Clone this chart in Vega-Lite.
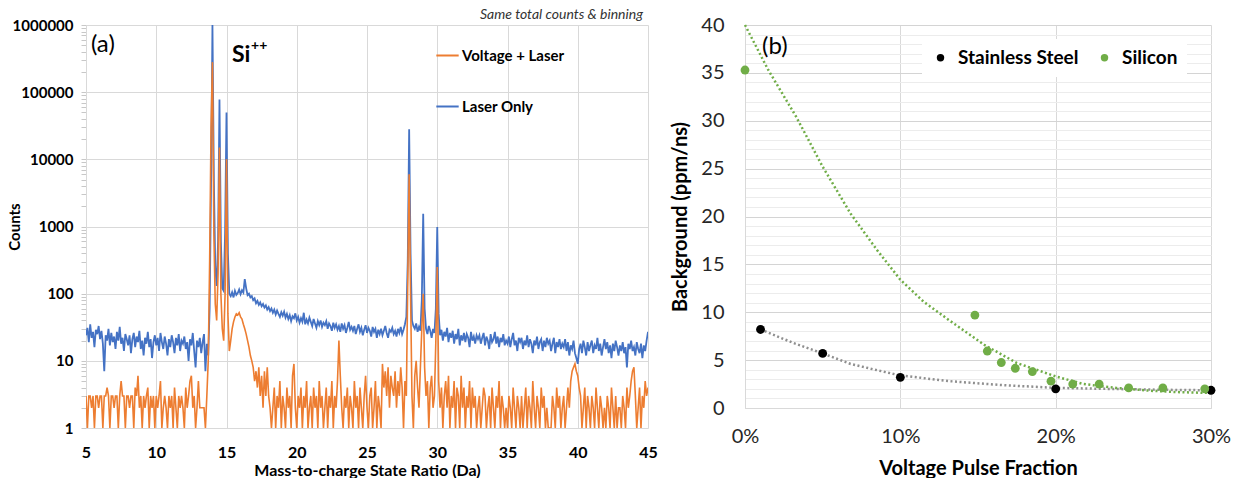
{
"$schema": "https://vega.github.io/schema/vega-lite/v6.json",
"padding": {"left": 7, "top": 8, "right": 5, "bottom": 0},
"spacing": 12,
"config": {"font": "Lato", "view": {"stroke": null}},
"resolve": {"scale": {"color": "independent"}, "legend": {"color": "independent"}},
"datasets": {
"spec": [
{"m":5.0,"L":24,"V":3},{"m":5.1,"L":31,"V":1},{"m":5.2,"L":19,"V":3},{"m":5.3,"L":35,"V":3},{"m":5.4,"L":22,"V":2},{"m":5.5,"L":27,"V":3},{"m":5.6,"L":16,"V":1},{"m":5.7,"L":29,"V":3},{"m":5.8,"L":25,"V":3},{"m":5.9,"L":33,"V":2},
{"m":6.0,"L":21,"V":3},{"m":6.1,"L":28,"V":3},{"m":6.2,"L":18,"V":1},{"m":6.3,"L":7,"V":3},{"m":6.4,"L":24,"V":3},{"m":6.5,"L":20,"V":4},{"m":6.6,"L":30,"V":3},{"m":6.7,"L":17,"V":1},{"m":6.8,"L":26,"V":3},{"m":6.9,"L":19,"V":3},
{"m":7.0,"L":23,"V":2},{"m":7.1,"L":15,"V":3},{"m":7.2,"L":27,"V":3},{"m":7.3,"L":20,"V":1},{"m":7.4,"L":32,"V":3},{"m":7.5,"L":18,"V":5},{"m":7.6,"L":22,"V":3},{"m":7.7,"L":14,"V":3},{"m":7.8,"L":25,"V":1},{"m":7.9,"L":21,"V":3},
{"m":8.0,"L":17,"V":3},{"m":8.1,"L":24,"V":2},{"m":8.2,"L":13,"V":3},{"m":8.3,"L":21,"V":3},{"m":8.4,"L":26,"V":1},{"m":8.5,"L":16,"V":4},{"m":8.6,"L":23,"V":3},{"m":8.7,"L":19,"V":6},{"m":8.8,"L":28,"V":2},{"m":8.9,"L":15,"V":3},
{"m":9.0,"L":20,"V":1},{"m":9.1,"L":12,"V":3},{"m":9.2,"L":22,"V":2},{"m":9.3,"L":18,"V":3},{"m":9.4,"L":27,"V":4},{"m":9.5,"L":16,"V":1},{"m":9.6,"L":21,"V":3},{"m":9.7,"L":11,"V":2},{"m":9.8,"L":19,"V":3},{"m":9.9,"L":24,"V":1},
{"m":10.0,"L":17,"V":3},{"m":10.1,"L":22,"V":2},{"m":10.2,"L":14,"V":3},{"m":10.3,"L":26,"V":5},{"m":10.4,"L":19,"V":1},{"m":10.5,"L":15,"V":2},{"m":10.6,"L":23,"V":3},{"m":10.7,"L":18,"V":2},{"m":10.8,"L":12,"V":1},{"m":10.9,"L":21,"V":3},
{"m":11.0,"L":16,"V":2},{"m":11.1,"L":24,"V":3},{"m":11.2,"L":19,"V":1},{"m":11.3,"L":13,"V":4},{"m":11.4,"L":22,"V":2},{"m":11.5,"L":17,"V":1},{"m":11.6,"L":25,"V":3},{"m":11.7,"L":14,"V":2},{"m":11.8,"L":20,"V":3},{"m":11.9,"L":18,"V":2},
{"m":12.0,"L":23,"V":1},{"m":12.1,"L":15,"V":4},{"m":12.2,"L":19,"V":2},{"m":12.3,"L":10,"V":3},{"m":12.4,"L":21,"V":5},{"m":12.5,"L":17,"V":6},{"m":12.6,"L":26,"V":2},{"m":12.7,"L":14,"V":3},{"m":12.8,"L":8,"V":1},{"m":12.9,"L":20,"V":2},
{"m":13.0,"L":16,"V":5},{"m":13.1,"L":22,"V":2},{"m":13.2,"L":13,"V":2},{"m":13.3,"L":19,"V":2},{"m":13.4,"L":25,"V":2},{"m":13.5,"L":7,"V":1},{"m":13.6,"L":18,"V":3},{"m":13.7,"L":12,"V":10},{"m":13.8,"L":60,"V":300},{"m":13.9,"L":4000,"V":30000},
{"m":14.0,"L":1000000,"V":280000},{"m":14.1,"L":5000,"V":800},{"m":14.2,"L":250,"V":70},{"m":14.3,"L":130,"V":40},{"m":14.4,"L":600,"V":200},{"m":14.5,"L":78000,"V":15000},{"m":14.6,"L":600,"V":100},{"m":14.7,"L":120,"V":30},{"m":14.8,"L":110,"V":20},{"m":14.9,"L":800,"V":100},
{"m":15.0,"L":50000,"V":10000},{"m":15.1,"L":400,"V":50},{"m":15.2,"L":100,"V":14},{"m":15.3,"L":92,"V":20},{"m":15.4,"L":105,"V":30},{"m":15.5,"L":88,"V":38},{"m":15.6,"L":110,"V":45},{"m":15.7,"L":96,"V":50},{"m":15.8,"L":102,"V":48},{"m":15.9,"L":115,"V":52},
{"m":16.0,"L":98,"V":45},{"m":16.1,"L":112,"V":42},{"m":16.2,"L":104,"V":35},{"m":16.3,"L":165,"V":30},{"m":16.4,"L":120,"V":25},{"m":16.5,"L":95,"V":20},{"m":16.6,"L":100,"V":16},{"m":16.7,"L":88,"V":12},{"m":16.8,"L":92,"V":10},{"m":16.9,"L":80,"V":8},
{"m":17.0,"L":85,"V":5},{"m":17.1,"L":72,"V":7},{"m":17.2,"L":78,"V":4},{"m":17.3,"L":68,"V":8},{"m":17.4,"L":74,"V":3},{"m":17.5,"L":65,"V":6},{"m":17.6,"L":70,"V":2},{"m":17.7,"L":62,"V":7},{"m":17.8,"L":67,"V":3},{"m":17.9,"L":58,"V":8},
{"m":18.0,"L":63,"V":3},{"m":18.1,"L":55,"V":2},{"m":18.2,"L":60,"V":1},{"m":18.3,"L":52,"V":2},{"m":18.4,"L":58,"V":4},{"m":18.5,"L":49,"V":1},{"m":18.6,"L":56,"V":3},{"m":18.7,"L":50,"V":2},{"m":18.8,"L":45,"V":5},{"m":18.9,"L":53,"V":1},
{"m":19.0,"L":47,"V":3},{"m":19.1,"L":54,"V":2},{"m":19.2,"L":44,"V":1},{"m":19.3,"L":50,"V":4},{"m":19.4,"L":42,"V":2},{"m":19.5,"L":48,"V":3},{"m":19.6,"L":39,"V":1},{"m":19.7,"L":46,"V":6},{"m":19.8,"L":43,"V":9},{"m":19.9,"L":51,"V":2},
{"m":20.0,"L":40,"V":1},{"m":20.1,"L":45,"V":3},{"m":20.2,"L":37,"V":2},{"m":20.3,"L":43,"V":4},{"m":20.4,"L":38,"V":1},{"m":20.5,"L":52,"V":3},{"m":20.6,"L":35,"V":2},{"m":20.7,"L":41,"V":5},{"m":20.8,"L":36,"V":1},{"m":20.9,"L":44,"V":2},
{"m":21.0,"L":38,"V":3},{"m":21.1,"L":33,"V":1},{"m":21.2,"L":42,"V":4},{"m":21.3,"L":36,"V":2},{"m":21.4,"L":31,"V":3},{"m":21.5,"L":39,"V":1},{"m":21.6,"L":34,"V":5},{"m":21.7,"L":40,"V":2},{"m":21.8,"L":32,"V":3},{"m":21.9,"L":37,"V":1},
{"m":22.0,"L":34,"V":2},{"m":22.1,"L":39,"V":4},{"m":22.2,"L":30,"V":1},{"m":22.3,"L":36,"V":3},{"m":22.4,"L":33,"V":2},{"m":22.5,"L":28,"V":5},{"m":22.6,"L":37,"V":1},{"m":22.7,"L":31,"V":3},{"m":22.8,"L":35,"V":2},{"m":22.9,"L":29,"V":5},
{"m":23.0,"L":33,"V":20},{"m":23.1,"L":27,"V":6},{"m":23.2,"L":36,"V":2},{"m":23.3,"L":30,"V":1},{"m":23.4,"L":34,"V":3},{"m":23.5,"L":26,"V":2},{"m":23.6,"L":31,"V":4},{"m":23.7,"L":38,"V":1},{"m":23.8,"L":29,"V":3},{"m":23.9,"L":32,"V":2},
{"m":24.0,"L":28,"V":1},{"m":24.1,"L":33,"V":5},{"m":24.2,"L":25,"V":2},{"m":24.3,"L":30,"V":3},{"m":24.4,"L":35,"V":1},{"m":24.5,"L":27,"V":4},{"m":24.6,"L":31,"V":2},{"m":24.7,"L":24,"V":1},{"m":24.8,"L":29,"V":3},{"m":24.9,"L":34,"V":6},
{"m":25.0,"L":26,"V":2},{"m":25.1,"L":31,"V":1},{"m":25.2,"L":28,"V":3},{"m":25.3,"L":23,"V":4},{"m":25.4,"L":32,"V":1},{"m":25.5,"L":27,"V":2},{"m":25.6,"L":30,"V":5},{"m":25.7,"L":22,"V":1},{"m":25.8,"L":29,"V":3},{"m":25.9,"L":25,"V":2},
{"m":26.0,"L":30,"V":1},{"m":26.1,"L":24,"V":9},{"m":26.2,"L":28,"V":4},{"m":26.3,"L":33,"V":7},{"m":26.4,"L":26,"V":3},{"m":26.5,"L":22,"V":8},{"m":26.6,"L":29,"V":2},{"m":26.7,"L":27,"V":6},{"m":26.8,"L":31,"V":4},{"m":26.9,"L":25,"V":3},
{"m":27.0,"L":28,"V":7},{"m":27.1,"L":23,"V":2},{"m":27.2,"L":30,"V":5},{"m":27.3,"L":26,"V":3},{"m":27.4,"L":32,"V":8},{"m":27.5,"L":25,"V":4},{"m":27.6,"L":29,"V":1},{"m":27.7,"L":35,"V":5},{"m":27.8,"L":45,"V":3},{"m":27.9,"L":300,"V":150},
{"m":28.0,"L":28000,"V":6000},{"m":28.1,"L":400,"V":100},{"m":28.2,"L":40,"V":3},{"m":28.3,"L":33,"V":1},{"m":28.4,"L":30,"V":6},{"m":28.5,"L":36,"V":10},{"m":28.6,"L":27,"V":4},{"m":28.7,"L":32,"V":2},{"m":28.8,"L":28,"V":8},{"m":28.9,"L":80,"V":30},
{"m":29.0,"L":1550,"V":100},{"m":29.1,"L":60,"V":8},{"m":29.2,"L":30,"V":3},{"m":29.3,"L":25,"V":5},{"m":29.4,"L":33,"V":1},{"m":29.5,"L":28,"V":4},{"m":29.6,"L":22,"V":6},{"m":29.7,"L":30,"V":2},{"m":29.8,"L":26,"V":3},{"m":29.9,"L":60,"V":20},
{"m":30.0,"L":980,"V":250},{"m":30.1,"L":50,"V":5},{"m":30.2,"L":24,"V":2},{"m":30.3,"L":29,"V":4},{"m":30.4,"L":20,"V":1},{"m":30.5,"L":27,"V":3},{"m":30.6,"L":23,"V":5},{"m":30.7,"L":31,"V":2},{"m":30.8,"L":19,"V":6},{"m":30.9,"L":26,"V":1},
{"m":31.0,"L":22,"V":3},{"m":31.1,"L":28,"V":2},{"m":31.2,"L":18,"V":5},{"m":31.3,"L":25,"V":1},{"m":31.4,"L":21,"V":4},{"m":31.5,"L":30,"V":3},{"m":31.6,"L":17,"V":1},{"m":31.7,"L":24,"V":6},{"m":31.8,"L":20,"V":2},{"m":31.9,"L":26,"V":4},
{"m":32.0,"L":19,"V":1},{"m":32.1,"L":25,"V":3},{"m":32.2,"L":22,"V":2},{"m":32.3,"L":16,"V":5},{"m":32.4,"L":27,"V":1},{"m":32.5,"L":20,"V":4},{"m":32.6,"L":23,"V":2},{"m":32.7,"L":18,"V":3},{"m":32.8,"L":24,"V":1},{"m":32.9,"L":21,"V":2},
{"m":33.0,"L":24,"V":3},{"m":33.1,"L":18,"V":1},{"m":33.2,"L":22,"V":2},{"m":33.3,"L":26,"V":4},{"m":33.4,"L":17,"V":3},{"m":33.5,"L":23,"V":1},{"m":33.6,"L":20,"V":2},{"m":33.7,"L":15,"V":3},{"m":33.8,"L":25,"V":1},{"m":33.9,"L":19,"V":4},
{"m":34.0,"L":21,"V":2},{"m":34.1,"L":27,"V":1},{"m":34.2,"L":18,"V":3},{"m":34.3,"L":23,"V":2},{"m":34.4,"L":16,"V":5},{"m":34.5,"L":22,"V":1},{"m":34.6,"L":19,"V":3},{"m":34.7,"L":25,"V":2},{"m":34.8,"L":17,"V":1},{"m":34.9,"L":20,"V":2},
{"m":35.0,"L":18,"V":1},{"m":35.1,"L":23,"V":3},{"m":35.2,"L":16,"V":2},{"m":35.3,"L":21,"V":1},{"m":35.4,"L":26,"V":4},{"m":35.5,"L":17,"V":2},{"m":35.6,"L":20,"V":1},{"m":35.7,"L":14,"V":3},{"m":35.8,"L":22,"V":2},{"m":35.9,"L":19,"V":1},
{"m":36.0,"L":22,"V":3},{"m":36.1,"L":15,"V":1},{"m":36.2,"L":20,"V":2},{"m":36.3,"L":17,"V":4},{"m":36.4,"L":24,"V":1},{"m":36.5,"L":16,"V":3},{"m":36.6,"L":21,"V":2},{"m":36.7,"L":18,"V":1},{"m":36.8,"L":13,"V":5},{"m":36.9,"L":20,"V":2},
{"m":37.0,"L":17,"V":1},{"m":37.1,"L":23,"V":3},{"m":37.2,"L":15,"V":2},{"m":37.3,"L":19,"V":1},{"m":37.4,"L":21,"V":4},{"m":37.5,"L":14,"V":2},{"m":37.6,"L":20,"V":3},{"m":37.7,"L":16,"V":1},{"m":37.8,"L":22,"V":2},{"m":37.9,"L":18,"V":1},
{"m":38.0,"L":20,"V":1},{"m":38.1,"L":14,"V":1},{"m":38.2,"L":18,"V":3},{"m":38.3,"L":22,"V":2},{"m":38.4,"L":13,"V":1},{"m":38.5,"L":19,"V":4},{"m":38.6,"L":16,"V":2},{"m":38.7,"L":21,"V":3},{"m":38.8,"L":15,"V":1},{"m":38.9,"L":18,"V":2},
{"m":39.0,"L":16,"V":3},{"m":39.1,"L":21,"V":1},{"m":39.2,"L":14,"V":2},{"m":39.3,"L":19,"V":4},{"m":39.4,"L":12,"V":2},{"m":39.5,"L":17,"V":5},{"m":39.6,"L":15,"V":7},{"m":39.7,"L":20,"V":8},{"m":39.8,"L":13,"V":9},{"m":39.9,"L":11,"V":7},
{"m":40.0,"L":9,"V":6},{"m":40.1,"L":15,"V":4},{"m":40.2,"L":18,"V":3},{"m":40.3,"L":13,"V":1},{"m":40.4,"L":20,"V":2},{"m":40.5,"L":16,"V":4},{"m":40.6,"L":12,"V":1},{"m":40.7,"L":19,"V":3},{"m":40.8,"L":14,"V":2},{"m":40.9,"L":17,"V":1},
{"m":41.0,"L":20,"V":3},{"m":41.1,"L":13,"V":2},{"m":41.2,"L":17,"V":1},{"m":41.3,"L":15,"V":4},{"m":41.4,"L":22,"V":2},{"m":41.5,"L":14,"V":1},{"m":41.6,"L":18,"V":3},{"m":41.7,"L":12,"V":2},{"m":41.8,"L":16,"V":1},{"m":41.9,"L":21,"V":2},
{"m":42.0,"L":15,"V":1},{"m":42.1,"L":19,"V":3},{"m":42.2,"L":13,"V":2},{"m":42.3,"L":17,"V":1},{"m":42.4,"L":11,"V":4},{"m":42.5,"L":18,"V":2},{"m":42.6,"L":14,"V":1},{"m":42.7,"L":20,"V":3},{"m":42.8,"L":16,"V":1},{"m":42.9,"L":12,"V":2},
{"m":43.0,"L":17,"V":2},{"m":43.1,"L":14,"V":1},{"m":43.2,"L":19,"V":3},{"m":43.3,"L":13,"V":2},{"m":43.4,"L":16,"V":1},{"m":43.5,"L":8,"V":4},{"m":43.6,"L":18,"V":2},{"m":43.7,"L":15,"V":3},{"m":43.8,"L":20,"V":5},{"m":43.9,"L":14,"V":7},
{"m":44.0,"L":16,"V":8},{"m":44.1,"L":12,"V":3},{"m":44.2,"L":19,"V":1},{"m":44.3,"L":15,"V":2},{"m":44.4,"L":13,"V":4},{"m":44.5,"L":18,"V":1},{"m":44.6,"L":11,"V":3},{"m":44.7,"L":17,"V":2},{"m":44.8,"L":14,"V":5},{"m":44.9,"L":20,"V":3},
{"m":45.0,"L":27,"V":4}
],
"trend": [
{"s":"Stainless Steel","x":0.01,"y":8.2},{"s":"Stainless Steel","x":0.031,"y":6.8},{"s":"Stainless Steel","x":0.05,"y":5.7},{"s":"Stainless Steel","x":0.068,"y":4.6},{"s":"Stainless Steel","x":0.085,"y":3.95},{"s":"Stainless Steel","x":0.1,"y":3.4},{"s":"Stainless Steel","x":0.132,"y":2.8},{"s":"Stainless Steel","x":0.165,"y":2.4},{"s":"Stainless Steel","x":0.2,"y":2.1},{"s":"Stainless Steel","x":0.239,"y":1.98},{"s":"Stainless Steel","x":0.27,"y":1.9},{"s":"Stainless Steel","x":0.3,"y":1.85},
{"s":"Silicon","x":0,"y":40},{"s":"Silicon","x":0.015,"y":35.3},{"s":"Silicon","x":0.033,"y":30.4},{"s":"Silicon","x":0.05,"y":25.2},{"s":"Silicon","x":0.068,"y":20.3},{"s":"Silicon","x":0.085,"y":16.5},{"s":"Silicon","x":0.1,"y":13.4},{"s":"Silicon","x":0.115,"y":11.1},{"s":"Silicon","x":0.132,"y":9.1},{"s":"Silicon","x":0.154,"y":6.6},{"s":"Silicon","x":0.175,"y":4.7},{"s":"Silicon","x":0.2,"y":3.3},{"s":"Silicon","x":0.218,"y":2.5},{"s":"Silicon","x":0.239,"y":2.1},{"s":"Silicon","x":0.261,"y":1.8},{"s":"Silicon","x":0.28,"y":1.65},{"s":"Silicon","x":0.3,"y":1.57}
],
"pts": [
{"s":"Stainless Steel","x":0.01,"y":8.2},{"s":"Stainless Steel","x":0.05,"y":5.7},{"s":"Stainless Steel","x":0.1,"y":3.2},{"s":"Stainless Steel","x":0.2,"y":2.0},{"s":"Stainless Steel","x":0.3,"y":1.85},
{"s":"Silicon","x":0,"y":35.3},{"s":"Silicon","x":0.148,"y":9.7},{"s":"Silicon","x":0.156,"y":5.95},{"s":"Silicon","x":0.165,"y":4.75},{"s":"Silicon","x":0.174,"y":4.15},{"s":"Silicon","x":0.185,"y":3.8},{"s":"Silicon","x":0.197,"y":2.8},{"s":"Silicon","x":0.211,"y":2.5},{"s":"Silicon","x":0.228,"y":2.5},{"s":"Silicon","x":0.247,"y":2.1},{"s":"Silicon","x":0.269,"y":2.1},{"s":"Silicon","x":0.296,"y":2.0}
]
},
"hconcat": [
{
"width": 562, "height": 403,
"layer": [
{"data": {"name": "spec"}, "mark": {"type": "line", "strokeWidth": 1.8, "clip": true},
 "encoding": {
  "x": {"field": "m", "type": "quantitative", "scale": {"domain": [5, 45], "nice": false, "zero": false},
   "axis": {"title": "Mass-to-charge State Ratio (Da)", "values": [5,10,15,20,25,30,35,40,45], "tickCount": 100, "format": "d", "grid": true, "gridColor": "#d9d9d9", "ticks": false, "domain": false, "labelFontSize": 16, "labelFontWeight": "bold", "labelColor": "#000", "labelPadding": 16, "labelFlush": false, "titleFontSize": 16, "titleFontWeight": "bold", "titleColor": "#000", "titlePadding": 2}},
  "y": {"field": "L", "type": "quantitative", "scale": {"type": "log", "domain": [1, 1000000], "nice": false},
   "axis": {"title": "Counts", "values": [1,2,3,4,5,6,7,8,9,10,20,30,40,50,60,70,80,90,100,200,300,400,500,600,700,800,900,1000,2000,3000,4000,5000,6000,7000,8000,9000,10000,20000,30000,40000,50000,60000,70000,80000,90000,100000,200000,300000,400000,500000,600000,700000,800000,900000,1000000],
    "tickCount": 500,
    "format": "d", "labelExpr": "indexof([1,10,100,1000,10000,100000,1000000], datum.value) >= 0 ? datum.label : ''",
    "grid": true, "gridColor": "#d9d9d9", "gridOpacity": {"condition": {"test": "indexof([1,10,100,1000,10000,100000,1000000], datum.value) >= 0", "value": 1}, "value": 0},
    "ticks": true, "tickColor": "#c8c8c8", "tickSize": 5, "domainColor": "#d9d9d9", "labelOverlap": false, "labelFlush": false,
    "labelFontSize": 15, "labelFontWeight": "bold", "labelColor": "#000", "labelPadding": 8,
    "titleFontSize": 15, "titleFontWeight": "bold", "titleColor": "#000", "titleX": -64}},
  "color": {"datum": "Laser Only", "scale": {"domain": ["Voltage + Laser", "Laser Only"], "range": ["#ED7D31", "#4472C4"]},
   "legend": {"title": null, "orient": "none", "legendX": 349, "legendY": 18, "direction": "vertical", "symbolType": "stroke", "symbolSize": 500, "symbolStrokeWidth": 2, "labelFontSize": 15, "labelFontWeight": "bold", "labelColor": "#000", "labelOffset": 2, "rowPadding": 30, "padding": 0}}
 }},
{"data": {"name": "spec"}, "mark": {"type": "line", "strokeWidth": 1.6, "clip": true},
 "encoding": {
  "x": {"field": "m", "type": "quantitative"},
  "y": {"field": "V", "type": "quantitative"},
  "color": {"datum": "Voltage + Laser"}
 }},
{"data": {"values": [{}]}, "mark": {"type": "text", "fontSize": 24, "align": "left", "baseline": "middle", "color": "#000"},
 "encoding": {"x": {"datum": 5.35}, "y": {"datum": 500000}, "text": {"value": "(a)"}}},
{"data": {"values": [{}]}, "mark": {"type": "text", "fontSize": 23, "fontWeight": "bold", "align": "left", "baseline": "middle", "color": "#000"},
 "encoding": {"x": {"datum": 15.39}, "y": {"datum": 357000}, "text": {"value": "Si"}}},
{"data": {"values": [{}]}, "mark": {"type": "text", "fontSize": 14, "fontWeight": "bold", "align": "left", "baseline": "middle", "color": "#000"},
 "encoding": {"x": {"datum": 16.75}, "y": {"datum": 480000}, "text": {"value": "++"}}},
{"data": {"values": [{}]}, "mark": {"type": "text", "fontSize": 14, "fontStyle": "italic", "align": "right", "baseline": "middle", "color": "#333"},
 "encoding": {"x": {"datum": 44.64}, "y": {"datum": 1408000}, "text": {"value": "Same total counts & binning"}}}
]
},
{
"width": 466, "height": 383,
"layer": [
{"data": {"name": "trend"}, "mark": {"type": "line", "strokeWidth": 2.5, "strokeDash": [2, 2.5]},
 "encoding": {
  "x": {"field": "x", "type": "quantitative", "scale": {"domain": [0, 0.3], "nice": false},
   "axis": {"title": "Voltage Pulse Fraction", "values": [0, 0.1, 0.2, 0.3], "tickCount": 100, "format": ".0%", "grid": true, "gridColor": "#d9d9d9", "ticks": false, "domainColor": "#d9d9d9", "labelFontSize": 20, "labelColor": "#262626", "labelPadding": 18, "labelFlush": false, "titleFontSize": 20, "titleFontWeight": "bold", "titleColor": "#000", "titlePadding": 12}},
  "y": {"field": "y", "type": "quantitative", "scale": {"domain": [0, 40], "nice": false},
   "axis": {"title": "Background (ppm/ns)", "values": [0,1,2,3,4,5,6,7,8,9,10,11,12,13,14,15,16,17,18,19,20,21,22,23,24,25,26,27,28,29,30,31,32,33,34,35,36,37,38,39,40],
    "tickCount": 500, "format": "d",
    "labelExpr": "datum.value % 5 == 0 ? datum.label : ''", "grid": true,
    "gridColor": {"condition": {"test": "datum.value % 5 == 0", "value": "#d4d4d4"}, "value": "#ececec"},
    "ticks": false, "domainColor": "#d9d9d9", "labelOverlap": false, "labelFlush": false,
    "labelFontSize": 20, "labelColor": "#262626", "labelPadding": 21,
    "titleFontSize": 20, "titleFontWeight": "bold", "titleColor": "#000", "titlePadding": 10}},
  "stroke": {"field": "s", "type": "nominal", "scale": {"domain": ["Stainless Steel", "Silicon"], "range": ["#8f8f8f", "#70AD47"]}, "legend": null}
 }},
{"data": {"name": "pts"}, "mark": {"type": "circle", "size": 78, "opacity": 1},
 "encoding": {
  "x": {"field": "x", "type": "quantitative"},
  "y": {"field": "y", "type": "quantitative"},
  "color": {"field": "s", "type": "nominal", "scale": {"domain": ["Stainless Steel", "Silicon"], "range": ["#000000", "#70AD47"]},
   "legend": {"title": null, "orient": "none", "legendX": 177, "legendY": 14, "direction": "horizontal", "fillColor": "white", "padding": 9, "labelFontSize": 19, "labelFontWeight": "bold", "labelColor": "#000", "symbolSize": 55, "symbolType": "circle", "columnPadding": 16, "labelOffset": 8}}
 }},
{"data": {"values": [{}]}, "mark": {"type": "text", "fontSize": 24, "align": "left", "baseline": "middle", "color": "#000"},
 "encoding": {"x": {"datum": 0.011}, "y": {"datum": 37.7}, "text": {"value": "(b)"}}}
]
}
]
}
